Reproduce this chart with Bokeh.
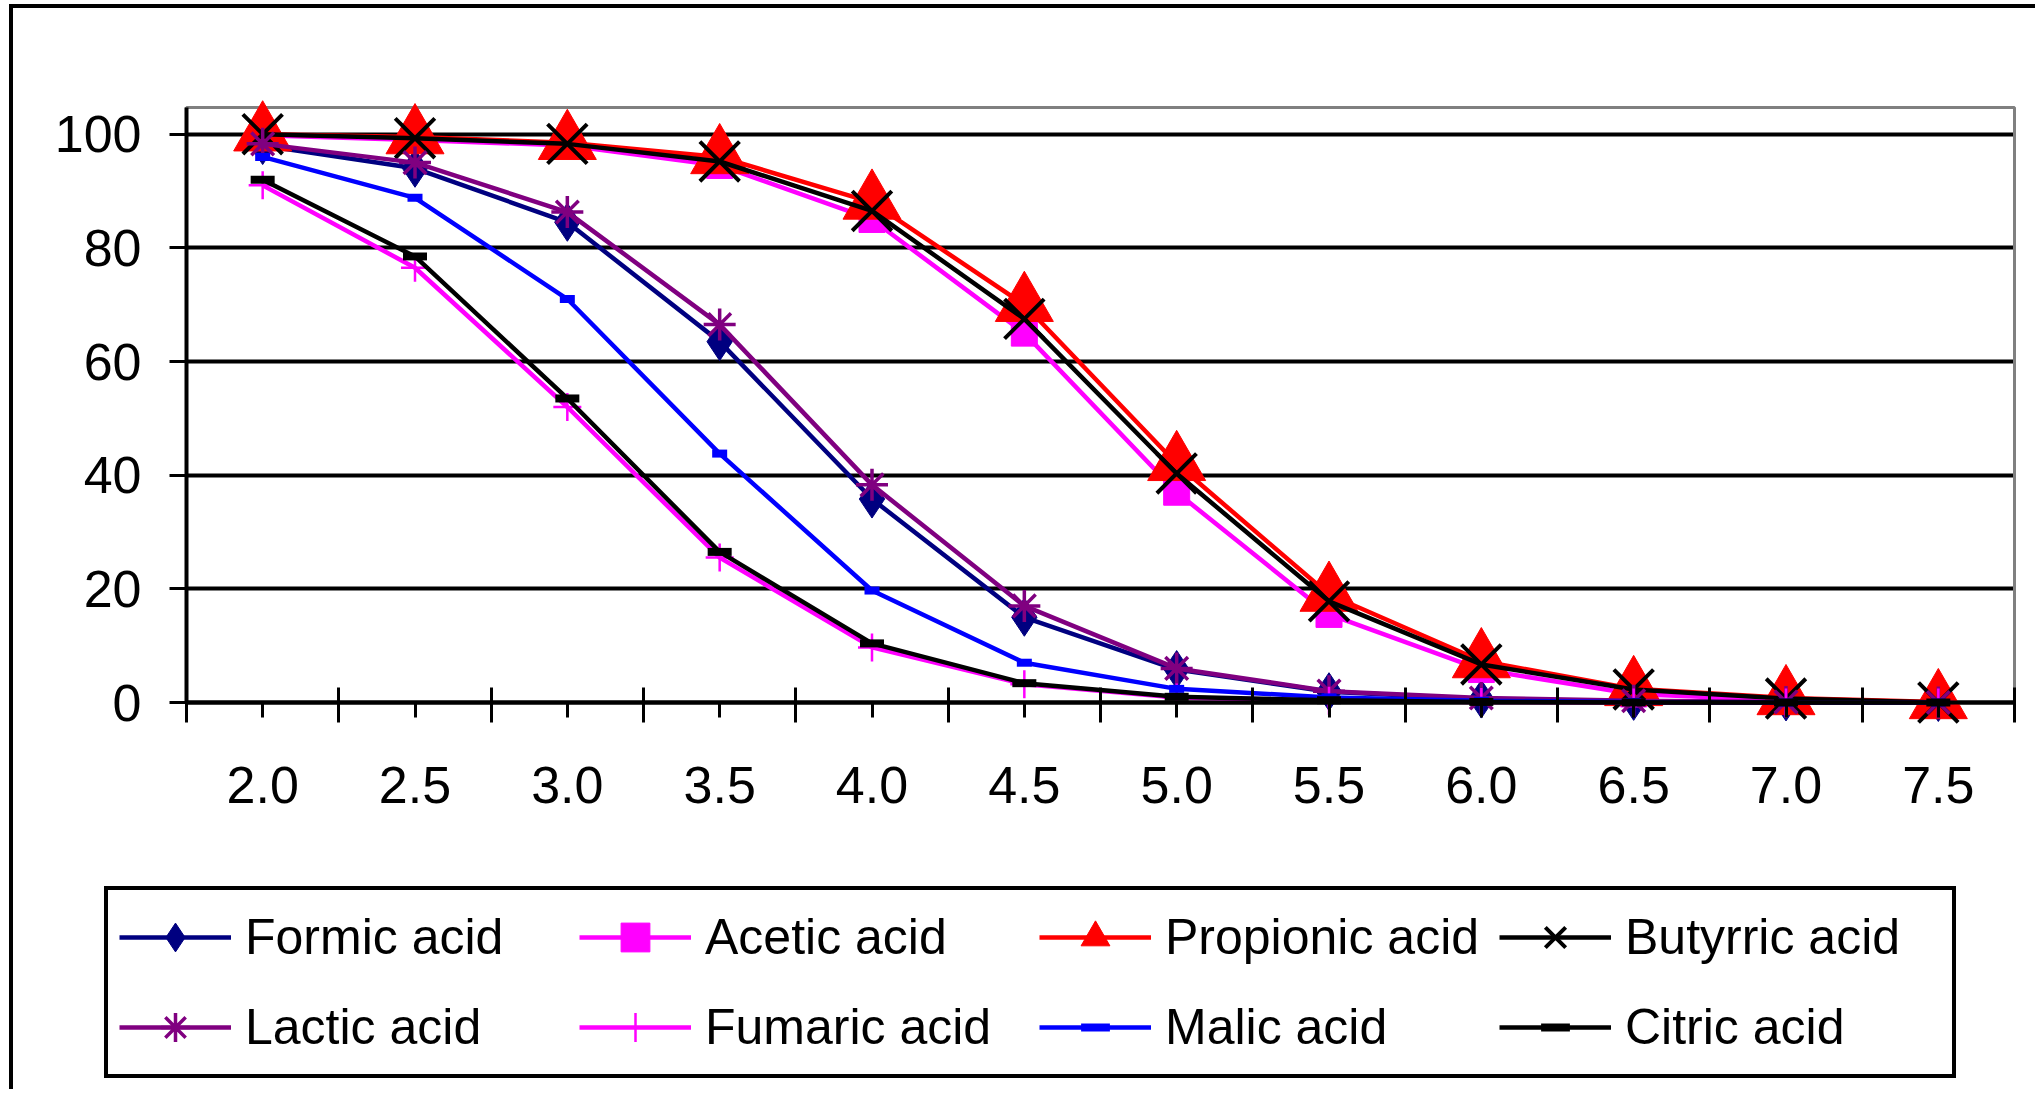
from bokeh.plotting import figure
from bokeh.models import (Range1d, FixedTicker, Legend, LegendItem, NumeralTickFormatter,
                          LinearAxis, BoxAnnotation)
from bokeh.embed import file_html
from bokeh.resources import INLINE

# ---------------- data ----------------
ph = [2.0, 2.5, 3.0, 3.5, 4.0, 4.5, 5.0, 5.5, 6.0, 6.5, 7.0, 7.5]
ph_labels = ["2.0", "2.5", "3.0", "3.5", "4.0", "4.5", "5.0", "5.5", "6.0", "6.5", "7.0", "7.5"]
y_ticks = [0, 20, 40, 60, 80, 100]

series_names = ["Formic acid", "Acetic acid", "Propionic acid", "Butyrric acid",
                "Lactic acid", "Fumaric acid", "Malic acid", "Citric acid"]

formic = [98.0, 94.0, 84.5, 63.5, 35.8, 15.0, 5.8, 1.9, 0.6, 0.2, 0.1, 0.0]
acetic = [99.8, 99.0, 98.0, 94.5, 85.0, 65.0, 37.0, 15.5, 5.8, 1.5, 0.4, 0.0]
propionic = [100.0, 99.5, 98.5, 96.0, 88.0, 70.0, 42.0, 19.0, 7.3, 2.4, 0.8, 0.1]
butyrric = [100.0, 99.3, 98.3, 95.2, 86.5, 67.5, 40.3, 17.8, 6.7, 2.3, 0.7, 0.0]
lactic = [98.3, 95.0, 86.3, 66.5, 38.3, 17.0, 6.0, 2.0, 0.8, 0.3, 0.1, 0.0]
fumaric = [91.0, 76.5, 52.0, 25.5, 9.7, 3.2, 0.9, 0.3, 0.1, 0.0, 0.0, 0.0]
malic = [96.0, 88.8, 71.0, 43.8, 19.7, 7.0, 2.4, 0.9, 0.3, 0.1, 0.0, 0.0]
citric = [92.0, 78.5, 53.5, 26.5, 10.4, 3.4, 1.0, 0.4, 0.1, 0.0, 0.0, 0.0]

series_values = [formic, acetic, propionic, butyrric, lactic, fumaric, malic, citric]

# ---------------- styles ----------------
FONT = "Liberation Sans"
styles = [
    dict(color="#000080", marker="diamond", size=38, filled=True, mlw=1),
    dict(color="#FF00FF", marker="square", size=26, filled=True, mlw=1),
    dict(color="#FF0000", marker="triangle", size=58, filled=True, mlw=1),
    dict(color="#000000", marker="x", size=56, filled=False, mlw=4),
    dict(color="#800080", marker="asterisk", size=32, filled=False, mlw=3.5),
    dict(color="#FF00FF", marker="cross", size=28, filled=False, mlw=2.5),
    dict(color="#0000FF", marker="dash", size=15, filled=False, mlw=8),
    dict(color="#000000", marker="dash", size=24, filled=False, mlw=8),
]

# ---------------- layout geometry (pixels) ----------------
CANVAS_W, CANVAS_H = 2026, 1085
AREA_L, AREA_R = 173, 2001      # plot-area left/right inside canvas
AREA_T, AREA_B = 99, 694        # plot-area top/bottom inside canvas
Y_TOP = 104.7

half = (ph[1] - ph[0]) / 2.0
x0, x1 = ph[0] - half, ph[-1] + half
xs = (x1 - x0) / (AREA_R - AREA_L)          # data units per px
ys = Y_TOP / (AREA_B - AREA_T)
x_range = Range1d(x0 - AREA_L * xs, x1 + (CANVAS_W - AREA_R) * xs)
y_range = Range1d(-(CANVAS_H - AREA_B) * ys, Y_TOP + AREA_T * ys)

p = figure(width=CANVAS_W, height=CANVAS_H, x_range=x_range, y_range=y_range,
           x_axis_location=None, y_axis_location=None,
           output_backend="svg", toolbar_location=None,
           min_border=0, min_border_left=0, min_border_right=0,
           min_border_top=0, min_border_bottom=0)
p.styles = {"margin-left": "9px", "margin-top": "4px",
            "border-left": "4px solid black", "border-top": "4px solid black"}
p.background_fill_color = "white"
p.border_fill_color = "white"
p.outline_line_color = None

# plot-area border (grey)
p.add_layout(BoxAnnotation(left=x0, right=x1, bottom=0, top=Y_TOP,
                           fill_alpha=0, line_color="#808080", line_alpha=1.0, line_width=3,
                           level="underlay"))

# gridlines
p.xgrid.visible = False
grid = p.ygrid[0]
if "cross_bounds" in grid.properties():
    grid.ticker = FixedTicker(ticks=y_ticks, minor_ticks=[])
    grid.cross_bounds = (x0, x1)
    grid.grid_line_color = "black"
    grid.grid_line_width = 4
else:
    grid.visible = False
    p.segment(x0=[x0] * len(y_ticks), x1=[x1] * len(y_ticks), y0=y_ticks, y1=y_ticks,
              line_color="black", line_width=4, level="underlay")

boundaries = [x - half for x in ph] + [x1]

xa = LinearAxis(fixed_location=0, bounds=(x0, x1),
                ticker=FixedTicker(ticks=ph, minor_ticks=boundaries),
                formatter=NumeralTickFormatter(format="0.0"))
xa.major_label_overrides = {x: lab for x, lab in zip(ph, ph_labels)}
xa.major_tick_in = 0
xa.major_tick_out = 15
xa.minor_tick_in = 15
xa.minor_tick_out = 20
xa.major_label_standoff = 44

ya = LinearAxis(fixed_location=x0, bounds=(0, Y_TOP),
                ticker=FixedTicker(ticks=y_ticks, minor_ticks=[]))
ya.major_tick_in = 0
ya.major_tick_out = 17
ya.major_label_standoff = 28

for ax in (xa, ya):
    ax.axis_line_color = "black"
    ax.axis_line_width = 4
    ax.major_tick_line_color = "black"
    ax.major_tick_line_width = 3
    ax.minor_tick_line_color = "black"
    ax.minor_tick_line_width = 3
    ax.major_label_text_font = FONT
    ax.major_label_text_font_size = "52px"
    ax.major_label_text_color = "black"

p.add_layout(xa, "below")
p.add_layout(ya, "left")

items = []
for name, vals, st in zip(series_names, series_values, styles):
    lr = p.line(ph, vals, line_color=st["color"], line_width=4.5)
    if st["filled"]:
        sr = p.scatter(ph, vals, marker=st["marker"], size=st["size"],
                       fill_color=st["color"], line_color=st["color"], line_width=st["mlw"])
    else:
        sr = p.scatter(ph, vals, marker=st["marker"], size=st["size"],
                       line_color=st["color"], line_width=st["mlw"], line_cap="butt")
    items.append(LegendItem(label=name, renderers=[lr, sr]))

legend = Legend(items=items, location=(91, 15), orientation="horizontal", ncols=4,
                glyph_width=112, glyph_height=72, label_standoff=14, label_width=316,
                spacing=18, padding=11, margin=0,
                label_text_font=FONT, label_text_font_size="50px", label_text_color="black",
                border_line_color="black", border_line_alpha=1.0, border_line_width=4,
                background_fill_color="white", background_fill_alpha=1.0)
p.add_layout(legend, "center")

open("out.html", "w").write(file_html(p, INLINE))
